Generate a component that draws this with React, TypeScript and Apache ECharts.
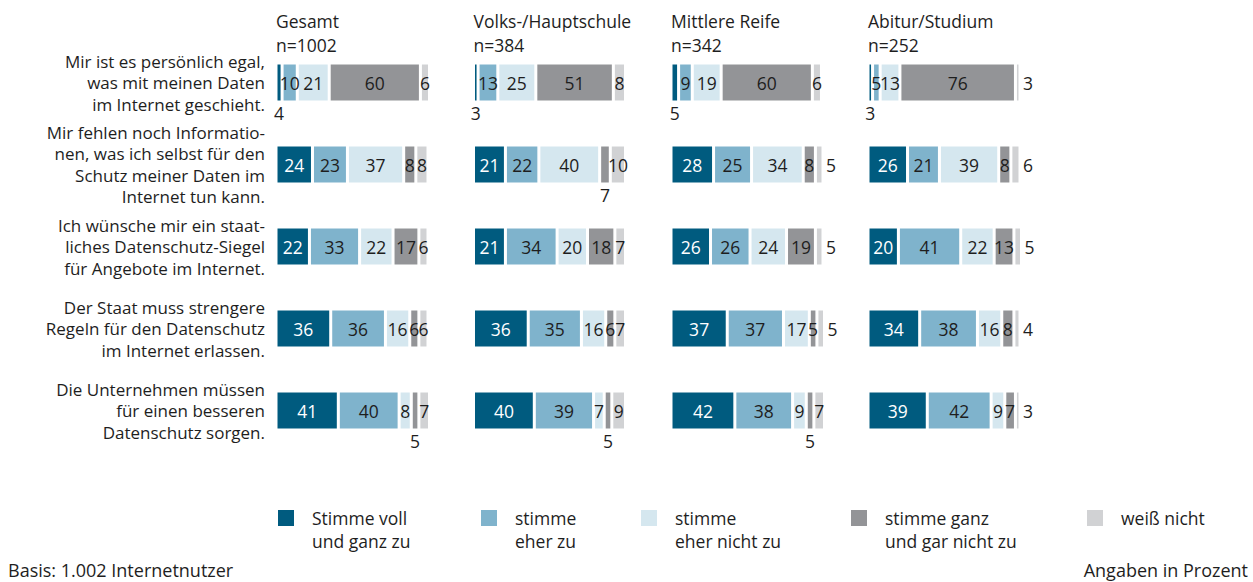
import React, { useEffect, useRef } from "react";
import * as echarts from "echarts";

const categories = [
  "Mir ist es persönlich egal,\nwas mit meinen Daten\nim Internet geschieht.",
  "Mir fehlen noch Informatio-\nnen, was ich selbst für den\nSchutz meiner Daten im\nInternet tun kann.",
  "Ich wünsche mir ein staat-\nliches Datenschutz-Siegel\nfür Angebote im Internet.",
  "Der Staat muss strengere\nRegeln für den Datenschutz\nim Internet erlassen.",
  "Die Unternehmen müssen\nfür einen besseren\nDatenschutz sorgen.",
];

const segmentNames = [
  "Stimme voll\nund ganz zu",
  "stimme\neher zu",
  "stimme\neher nicht zu",
  "stimme ganz\nund gar nicht zu",
  "weiß nicht",
];

const panelNames = ["Gesamt", "Volks-/Hauptschule", "Mittlere Reife", "Abitur/Studium"];
const panelN = ["n=1002", "n=384", "n=342", "n=252"];

// rows: statements; columns: segments
const gesamtValues = [
  [4, 10, 21, 60, 6],
  [24, 23, 37, 8, 8],
  [22, 33, 22, 17, 6],
  [36, 36, 16, 6, 6],
  [41, 40, 8, 5, 7],
];
const volksValues = [
  [3, 13, 25, 51, 8],
  [21, 22, 40, 7, 10],
  [21, 34, 20, 18, 7],
  [36, 35, 16, 6, 7],
  [40, 39, 7, 5, 9],
];
const mittlereValues = [
  [5, 9, 19, 60, 6],
  [28, 25, 34, 8, 5],
  [26, 26, 24, 19, 5],
  [37, 37, 17, 5, 5],
  [42, 38, 9, 5, 7],
];
const abiturValues = [
  [3, 5, 13, 76, 3],
  [26, 21, 39, 8, 6],
  [20, 41, 22, 13, 5],
  [34, 38, 16, 8, 4],
  [39, 42, 9, 7, 3],
];

const panelValues = [gesamtValues, volksValues, mittlereValues, abiturValues];

// label placement overrides: "panel-row-segment"
const belowLabels = ["0-0-0", "1-0-0", "2-0-0", "3-0-0", "1-1-3", "0-4-3", "1-4-3", "2-4-3"];
const rightLabels = ["3-0-4", "3-1-4", "3-2-4", "3-3-4", "3-4-4", "2-1-4", "2-2-4", "2-3-4"];

const colors = ["#005b7f", "#7fb3cc", "#d5e7ef", "#939497", "#d1d2d4"];
const FONT = "Open Sans";
const TEXT = "#1e1e1e";
const gridLefts = [276, 473.5, 671, 868];
const GRID_W = 152;
const GRID_TOP = 41.5;
const GRID_H = 410;

export default function App() {
  const ref = useRef<HTMLDivElement>(null);
  useEffect(() => {
    if (!ref.current) return;
    const chart = echarts.init(ref.current, null, { renderer: "svg" });
    const grids: any[] = [];
    const xAxes: any[] = [];
    const yAxes: any[] = [];
    const series: any[] = [];
    const graphic: any[] = [];
    panelValues.forEach((vals, p) => {
      grids.push({ left: gridLefts[p], top: GRID_TOP, width: GRID_W, height: GRID_H });
      xAxes.push({ type: "value", gridIndex: p, min: 0, max: 100, show: false });
      yAxes.push({
        type: "category",
        gridIndex: p,
        data: categories,
        inverse: true,
        axisLine: { show: false },
        axisTick: { show: false },
        axisLabel: {
          show: p === 0,
          fontFamily: FONT,
          fontSize: 17,
          lineHeight: 21.5,
          color: TEXT,
          align: "right",
          margin: 11,
        },
      });
      graphic.push({
        type: "text",
        x: gridLefts[p],
        y: 21,
        style: {
          text: panelNames[p],
          fontFamily: FONT,
          fontSize: 17.5,
          lineHeight: 18,
          fill: TEXT,
          verticalAlign: "middle",
        },
      });
      graphic.push({
        type: "text",
        x: gridLefts[p],
        y: 44.5,
        style: {
          text: panelN[p],
          fontFamily: FONT,
          fontSize: 17.5,
          lineHeight: 18,
          fill: TEXT,
          verticalAlign: "middle",
        },
      });
      segmentNames.forEach((name, s) => {
        series.push({
          type: "bar",
          name,
          xAxisIndex: p,
          yAxisIndex: p,
          stack: "p" + p,
          barWidth: 39,
          clip: false,
          itemStyle: { color: colors[s], borderColor: "#fff", borderWidth: 1.5 },
          label: {
            show: true,
            position: "inside",
            fontFamily: FONT,
            fontSize: 17.5,
            color: s === 0 ? "#fff" : TEXT,
          },
          data: vals.map((row, r) => {
            const key = `${p}-${r}-${s}`;
            const d: any = { value: row[s] };
            if (belowLabels.includes(key)) {
              d.label = { position: "bottom", distance: 2, color: TEXT };
            } else if (rightLabels.includes(key)) {
              d.label = { position: "right", distance: 3, color: TEXT };
            }
            return d;
          }),
        });
      });
    });

    const legendX = [278, 481, 641, 851, 1087];
    segmentNames.forEach((name, s) => {
      graphic.push({
        type: "rect",
        shape: { x: legendX[s], y: 510, width: 16, height: 16 },
        style: { fill: colors[s] },
      });
      name.split("\n").forEach((line, i) => {
        graphic.push({
          type: "text",
          x: legendX[s] + 34,
          y: 518 + i * 22.5,
          style: {
            text: line,
            fontFamily: FONT,
            fontSize: 17.5,
            lineHeight: 18,
            fill: TEXT,
            verticalAlign: "middle",
          },
        });
      });
    });
    graphic.push({
      type: "text",
      x: 8,
      y: 570,
      style: {
        text: "Basis: 1.002 Internetnutzer",
        fontFamily: FONT,
        fontSize: 18,
        lineHeight: 20,
        fill: TEXT,
        verticalAlign: "middle",
      },
    });
    graphic.push({
      type: "text",
      x: 1248,
      y: 570,
      style: {
        text: "Angaben in Prozent",
        fontFamily: FONT,
        fontSize: 18,
        lineHeight: 20,
        fill: TEXT,
        align: "right",
        verticalAlign: "middle",
      },
    });

    chart.setOption({
      animation: false,
      grid: grids,
      xAxis: xAxes,
      yAxis: yAxes,
      series,
      graphic,
    });
    return () => chart.dispose();
  }, []);
  return (
    <div
      ref={ref}
      style={{ position: "fixed", left: 0, top: 0, width: 1253, height: 582, background: "#fff" }}
    />
  );
}
